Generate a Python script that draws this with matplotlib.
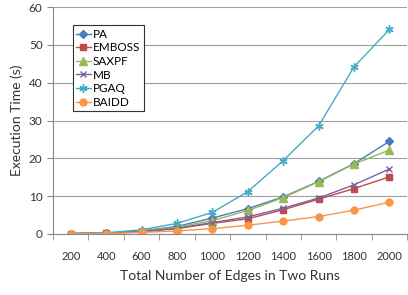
import matplotlib.pyplot as plt
import numpy as np

plt.rcParams['font.family'] = ['Lato', 'DejaVu Sans']

edges = ['200', '400', '600', '800', '1000', '1200', '1400', '1600', '1800', '2000']
pa = [0.1, 0.2, 0.8, 2.0, 4.2, 6.7, 9.8, 13.9, 18.6, 24.5]
emboss = [0.1, 0.2, 0.6, 1.4, 2.8, 4.0, 6.4, 9.2, 12.0, 15.1]
saxpf = [0.1, 0.2, 0.7, 1.8, 3.5, 6.2, 9.6, 13.8, 18.5, 22.2]
mb = [0.1, 0.2, 0.6, 1.5, 3.0, 4.5, 6.8, 9.5, 13.0, 17.2]
pgaq = [0.1, 0.3, 1.1, 2.8, 5.7, 11.2, 19.4, 28.6, 44.2, 54.1]
baidd = [0.05, 0.1, 0.4, 0.8, 1.4, 2.3, 3.4, 4.6, 6.3, 8.4]

fig = plt.figure(figsize=(4.08, 2.95), dpi=100)
ax = fig.add_axes([0.13, 0.207, 0.868, 0.769])

x = np.arange(len(edges))
ax.plot(x, pa, color='#4A7EBB', marker='D', markersize=4, lw=1, label='PA')
ax.plot(x, emboss, color='#BE4B48', marker='s', markersize=5, lw=1, label='EMBOSS')
ax.plot(x, saxpf, color='#98B954', marker='^', markersize=5.5, lw=1, label='SAXPF')
ax.plot(x, mb, color='#7D60A0', marker='x', markersize=5, mew=1, lw=1, label='MB')
ax.plot(x, pgaq, color='#46AAC5', marker=(6, 2, 0), markersize=6, mew=1, lw=1, label='PGAQ')
ax.plot(x, baidd, color='#F79646', marker='o', markersize=5, lw=1, label='BAIDD')

ax.set_xlim(-0.5, 9.5)
ax.set_ylim(0, 60)
ax.set_yticks(range(0, 61, 10))
ax.set_xticks(x)
ax.set_xticklabels(edges)
ax.set_xticks(np.arange(-0.5, 10, 1), minor=True)
ax.tick_params(axis='x', which='major', length=0, pad=12, labelsize=8, colors='#333333')
ax.tick_params(axis='x', which='minor', length=4, color='#888888')
ax.tick_params(axis='y', length=4, color='#888888', labelsize=8.5, colors='#333333')
ax.tick_params(axis='y', color='#888888')

ax.grid(axis='y', color='#a0a0a0', lw=0.8)
ax.set_axisbelow(True)
for s in ['top', 'right']:
    ax.spines[s].set_visible(False)
for s in ['left', 'bottom']:
    ax.spines[s].set_color('#888888')

ax.set_xlabel('Total Number of Edges in Two Runs', fontsize=10, color='#333333', labelpad=6)
ax.set_ylabel('Execution Time (s)', fontsize=10, color='#333333')

leg = ax.legend(loc='upper left', bbox_to_anchor=(0.056, 0.92), fontsize=8.5,
                handlelength=1.2, handletextpad=0.2, borderpad=0.3, labelspacing=0.22,
                fancybox=False, framealpha=1, edgecolor='#333333', borderaxespad=0)
leg.get_frame().set_linewidth(0.8)

plt.savefig('out.png', dpi=100)
